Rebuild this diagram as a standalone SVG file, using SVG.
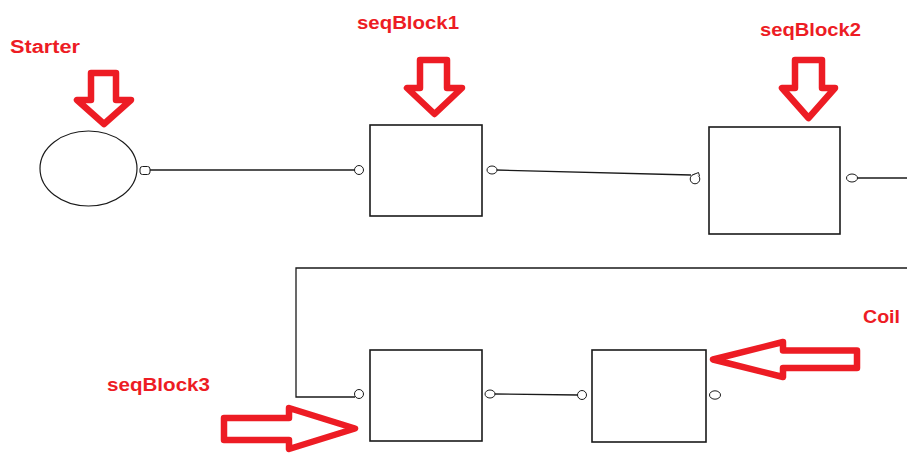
<svg xmlns="http://www.w3.org/2000/svg" width="907" height="453" viewBox="0 0 907 453">
  <style>
    .label { font-family: "Liberation Sans", Arial, sans-serif; font-weight: bold; font-size: 18px; fill: #ED1C24; }
    .block { fill: #ffffff; stroke: #1a1a1a; stroke-width: 1.6; }
    .port { fill: #ffffff; stroke: #1a1a1a; stroke-width: 1; }
    .wire { fill: none; stroke: #1a1a1a; stroke-width: 1.3; }
    .pointer { fill: #ffffff; stroke: #ED1C24; stroke-width: 6.5; stroke-linejoin: round; }
  </style>
  <rect width="907" height="453" fill="#ffffff"/>

  <!-- connectors -->
  <g id="connectors">
    <line class="wire" x1="150" y1="170" x2="355" y2="170"/>
    <line class="wire" x1="496" y1="170" x2="691" y2="175"/>
    <line class="wire" x1="857" y1="178" x2="907" y2="178"/>
    <polyline class="wire" points="907,268 296,268 296,397 355,397"/>
    <line class="wire" x1="494" y1="394" x2="578" y2="395"/>
  </g>

  <!-- starter -->
  <g id="starter">
    <ellipse cx="88.5" cy="168.5" rx="48.5" ry="37.5" fill="#ffffff" stroke="#1a1a1a" stroke-width="1.2"/>
    <rect class="port" x="140" y="166.5" width="10" height="8" rx="2.5"/>
    <polygon class="pointer" points="91,73 116,73 116,100 131,100 104,124 77,100 91,100"/>
    <text class="label" x="10" y="53" textLength="70" lengthAdjust="spacingAndGlyphs">Starter</text>
  </g>

  <!-- seqBlock1 -->
  <g id="seqBlock1">
    <rect class="block" x="370" y="125" width="112" height="91"/>
    <circle class="port" cx="359" cy="170" r="4.5"/>
    <ellipse class="port" cx="492" cy="170" rx="5" ry="4"/>
    <polygon class="pointer" points="420,60 447,60 447,88 462,88 434.5,114 407,88 420,88"/>
    <text class="label" x="357" y="29" textLength="102" lengthAdjust="spacingAndGlyphs">seqBlock1</text>
  </g>

  <!-- seqBlock2 -->
  <g id="seqBlock2">
    <rect class="block" x="709" y="127" width="131" height="107"/>
    <circle class="port" cx="695" cy="179" r="4.8"/>
    <path class="port" d="M692.5,175 L698.5,172.5 L699.5,176" fill="none"/>
    <ellipse class="port" cx="852" cy="178" rx="5.5" ry="4"/>
    <polygon class="pointer" points="795,60 822,60 822,88 835,88 808.5,118 782,88 795,88"/>
    <text class="label" x="760" y="36" textLength="101" lengthAdjust="spacingAndGlyphs">seqBlock2</text>
  </g>

  <!-- seqBlock3 -->
  <g id="seqBlock3">
    <rect class="block" x="370" y="350" width="112" height="91"/>
    <circle class="port" cx="359" cy="394" r="4.5"/>
    <ellipse class="port" cx="490" cy="394" rx="5" ry="4"/>
    <polygon class="pointer" points="224,418 289,418 289,408 355,428.5 289,449 289,440 224,440"/>
    <text class="label" x="107" y="391" textLength="103" lengthAdjust="spacingAndGlyphs">seqBlock3</text>
  </g>

  <!-- coil -->
  <g id="coil">
    <rect class="block" x="592" y="350" width="114" height="92"/>
    <circle class="port" cx="582" cy="395" r="4.5"/>
    <ellipse class="port" cx="715" cy="395" rx="5.5" ry="4.2"/>
    <polygon class="pointer" points="857,350.5 783,350.5 783,342 713,359.5 783,377 783,368 857,368"/>
    <text class="label" x="863" y="323" textLength="37" lengthAdjust="spacingAndGlyphs">Coil</text>
  </g>
</svg>
